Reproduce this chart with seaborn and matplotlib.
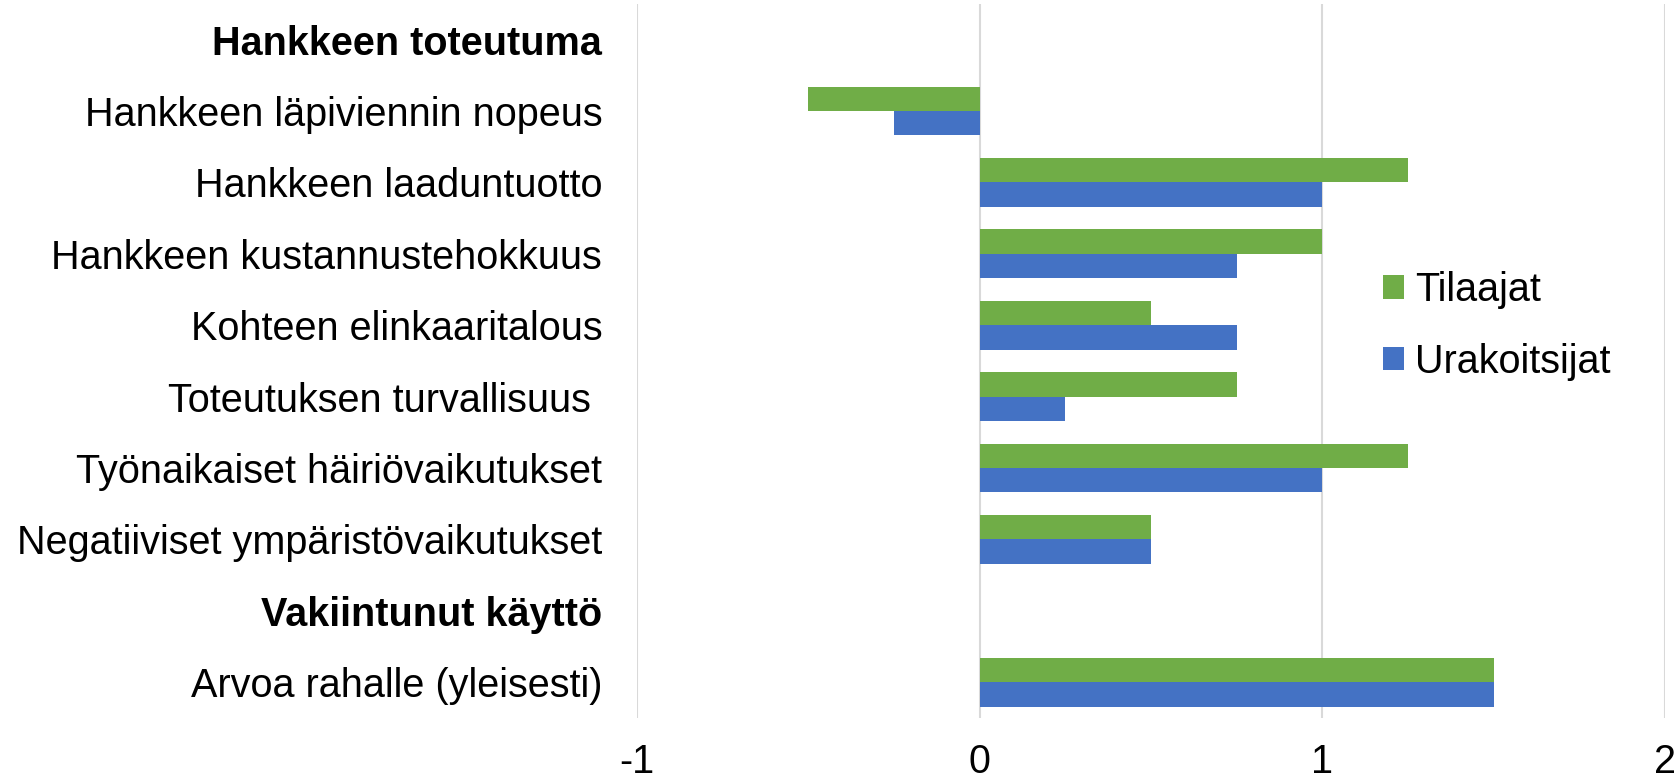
import pandas as pd
import numpy as np
import matplotlib.pyplot as plt
import seaborn as sns

categories = [
    "Hankkeen toteutuma",
    "Hankkeen läpiviennin nopeus",
    "Hankkeen laaduntuotto",
    "Hankkeen kustannustehokkuus",
    "Kohteen elinkaaritalous",
    "Toteutuksen turvallisuus ",
    "Työnaikaiset häiriövaikutukset",
    "Negatiiviset ympäristövaikutukset",
    "Vakiintunut käyttö",
    "Arvoa rahalle (yleisesti)",
]
headers = ["Hankkeen toteutuma", "Vakiintunut käyttö"]
items = [c for c in categories if c not in headers]

tilaajat = [-0.5, 1.25, 1.0, 0.5, 0.75, 1.25, 0.5, 1.5]
urakoitsijat = [-0.25, 1.0, 0.75, 0.75, 0.25, 1.0, 0.5, 1.5]
series = ["Tilaajat", "Urakoitsijat"]
colors = ["#70AD47", "#4472C4"]

df = pd.DataFrame({
    "kohta": items * 2,
    "arvo": tilaajat + urakoitsijat,
    "ryhma": [series[0]] * len(items) + [series[1]] * len(items),
})

sns.set_style("white")
plt.rcParams["font.family"] = ["Liberation Sans", "DejaVu Sans"]
fs = 28.5

fig = plt.figure(figsize=(16.78, 7.82), dpi=100)
ax = fig.add_axes([0.3796, 0.082, 0.6126, 0.913])

sns.barplot(data=df, y="kohta", x="arvo", hue="ryhma", order=categories,
            hue_order=series, palette=colors, orient="h", width=0.685,
            linewidth=0, saturation=1, ax=ax, errorbar=None)

ax.set_xlim(-1, 2)
ax.set_xticks([-1, 0, 1, 2])
ax.set_xticklabels(["-1", "0", "1", "2"])
ax.xaxis.grid(True, color="#D9D9D9", linewidth=1.5)
ax.set_axisbelow(True)
for s in ax.spines.values():
    s.set_visible(False)
ax.set_xlabel("")
ax.set_ylabel("")
ax.tick_params(axis="y", length=0, pad=25, labelsize=fs, labelcolor="black")
ax.tick_params(axis="x", length=0, pad=18, labelsize=fs, labelcolor="black")
for lbl in ax.get_yticklabels():
    if lbl.get_text() in headers:
        lbl.set_fontweight("bold")

ax.legend(loc="center left", bbox_to_anchor=(0.691, 0.549), frameon=False,
          fontsize=fs, handlelength=0.53, handleheight=0.53, handletextpad=0.28,
          labelspacing=0.85, labelcolor="black")

fig.savefig("out.png", dpi=100)
